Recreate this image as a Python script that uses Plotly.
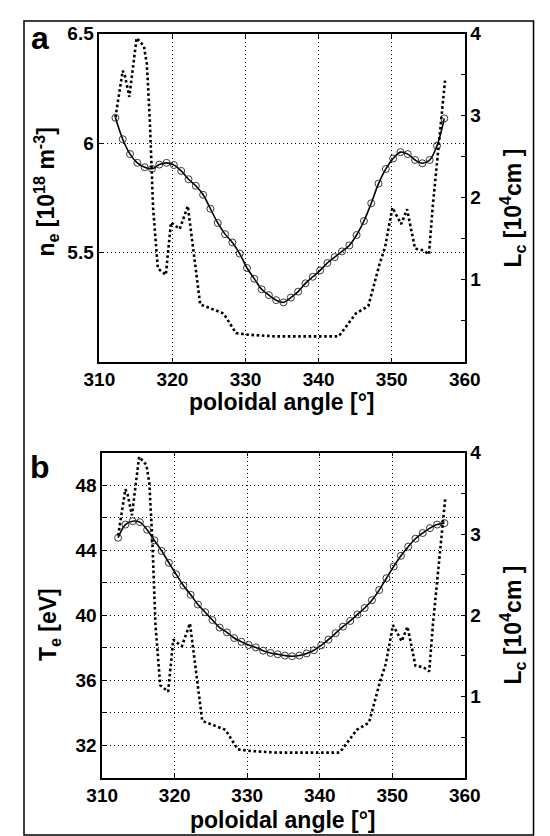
import plotly.graph_objects as go

# ---------------- data ----------------
angle = [312.2, 313.2, 314.2, 315.2, 316.2, 317.2, 318.2, 319.2, 320.2, 321.2,
         322.2, 323.2, 324.2, 325.2, 326.2, 327.2, 328.2, 329.2, 330.2, 331.2,
         332.2, 333.2, 334.2, 335.2, 336.2, 337.2, 338.2, 339.2, 340.2, 341.2,
         342.2, 343.2, 344.2, 345.2, 346.2, 347.2, 348.2, 349.2, 350.2, 351.2,
         352.2, 353.2, 354.2, 355.2, 356.2, 357.2]

ne = [6.116, 6.018, 5.950, 5.910, 5.890, 5.883, 5.902, 5.910, 5.900, 5.873,
      5.835, 5.805, 5.764, 5.700, 5.635, 5.584, 5.546, 5.495, 5.429, 5.380,
      5.332, 5.305, 5.282, 5.272, 5.294, 5.321, 5.359, 5.389, 5.418, 5.452,
      5.479, 5.505, 5.532, 5.580, 5.644, 5.725, 5.815, 5.882, 5.930, 5.959,
      5.950, 5.923, 5.908, 5.923, 5.988, 6.113]

te = [44.77, 45.58, 45.79, 45.73, 45.26, 44.61, 43.96, 43.23, 42.52, 41.83,
      41.26, 40.66, 40.19, 39.71, 39.24, 38.95, 38.60, 38.37, 38.17, 38.02,
      37.82, 37.68, 37.60, 37.52, 37.48, 37.52, 37.65, 37.85, 38.15, 38.50,
      38.90, 39.30, 39.65, 40.05, 40.45, 40.93, 41.55, 42.28, 43.00, 43.66,
      44.22, 44.71, 45.06, 45.36, 45.58, 45.67]

lc_angle = [312.2, 313.2, 313.5, 314.1, 315.1, 316.1, 316.5, 316.9, 317.35, 318.0,
            319.1, 319.8, 321.0, 322.1, 322.7, 323.8, 327.0, 328.7, 330.5, 334.1,
            342.7, 343.1, 345.1, 346.8, 348.3, 349.1, 350.1, 351.3, 352.1, 353.2,
            354.3, 355.1, 355.6, 357.3]
lc = [2.98, 3.55, 3.49, 3.23, 3.95, 3.85, 3.63, 2.96, 1.88, 1.14,
      1.06, 1.70, 1.62, 1.90, 1.48, 0.70, 0.59, 0.35, 0.33, 0.31,
      0.31, 0.35, 0.59, 0.68, 1.18, 1.40, 1.88, 1.68, 1.86, 1.38,
      1.36, 1.31, 1.88, 3.43]

x_ticks = [310, 320, 330, 340, 350, 360]
ne_ticks = [5.5, 6, 6.5]
ne_ticktext = ["5.5", "6", "6.5"]
te_ticks = [32, 36, 40, 44, 48]
te_minor = [34, 38, 42, 46]
lc_ticks = [1, 2, 3, 4]
lc_minor = [0.5, 1.5, 2.5, 3.5]

# ---------------- figure ----------------
W, H = 550, 836
OFF = 8  # page body margin offset
FONT = "Liberation Sans, Arial, sans-serif"

def px_x(p):
    return (p - OFF) / W

def px_y(p):
    return 1 - (p - OFF) / H

fig = go.Figure()

circle_style = dict(symbol="circle-open", size=7, color="#222", line=dict(width=0.9, color="#222"))
dot_line = dict(color="black", width=2.6, dash="2.6px,2.6px")

fig.add_trace(go.Scatter(x=angle, y=ne, mode="lines+markers", xaxis="x", yaxis="y",
                         line=dict(color="black", width=1.6, shape="spline"),
                         marker=circle_style, showlegend=False))
fig.add_trace(go.Scatter(x=lc_angle, y=lc, mode="lines", xaxis="x", yaxis="y2",
                         line=dot_line, showlegend=False))
fig.add_trace(go.Scatter(x=angle, y=te, mode="lines+markers", xaxis="x2", yaxis="y3",
                         line=dict(color="black", width=1.6, shape="spline"),
                         marker=circle_style, showlegend=False))
fig.add_trace(go.Scatter(x=lc_angle, y=lc, mode="lines", xaxis="x2", yaxis="y4",
                         line=dot_line, showlegend=False))

tickfont = dict(family=FONT, size=19, color="black", weight="bold")
common = dict(showline=True, linecolor="black", linewidth=1.5, ticks="inside",
              ticklen=4, tickcolor="black", tickwidth=1, zeroline=False,
              tickfont=tickfont)
grid = dict(showgrid=True, gridcolor="black", griddash="1px,3px", gridwidth=1)

fig.update_layout(
    width=W, height=H, margin=dict(l=0, r=0, t=0, b=0),
    paper_bgcolor="white", plot_bgcolor="white",
    xaxis=dict(domain=[px_x(88), px_x(476)], anchor="y", range=[310, 360],
               tickvals=x_ticks, mirror="ticks", **common, **grid),
    yaxis=dict(domain=[px_y(356), px_y(24)], anchor="x", range=[5.0, 6.5],
               tickvals=ne_ticks, ticktext=ne_ticktext, **common, **grid),
    yaxis2=dict(overlaying="y", side="right", anchor="x", range=[0, 4],
                tickvals=lc_ticks, showgrid=False,
                minor=dict(tickvals=lc_minor, ticks="inside", ticklen=4, tickcolor="black"),
                **common),
    xaxis2=dict(domain=[px_x(91), px_x(476)], anchor="y3", range=[310, 360],
                tickvals=x_ticks, mirror="ticks", **common, **grid),
    yaxis3=dict(domain=[px_y(777), px_y(448)], anchor="x2", range=[30, 50],
                tickvals=te_ticks,
                minor=dict(tickvals=te_minor, ticks="inside", ticklen=4, tickcolor="black",
                           showgrid=True, gridcolor="black", griddash="1px,3px", gridwidth=1),
                **common, **grid),
    yaxis4=dict(overlaying="y3", side="right", anchor="x2", range=[0, 4],
                tickvals=lc_ticks, showgrid=False,
                minor=dict(tickvals=lc_minor, ticks="inside", ticklen=4, tickcolor="black"),
                **common),
)

title_font = dict(family=FONT, size=23, color="black", weight="bold")
panel_font = dict(family=FONT, size=32, color="black", weight="bold")

def ann(text, x, y, font, angle=0):
    fig.add_annotation(text=text, x=px_x(x), y=px_y(y), xref="paper", yref="paper",
                       showarrow=False, xanchor="center", yanchor="middle",
                       textangle=angle, font=font)

ann("a", 25, 28, panel_font)
ann("b", 25, 462, panel_font)
ann("n<sub>e</sub> [10<sup>18</sup> m<sup>-3</sup>]", 31, 184, title_font, -90)
ann("L<sub>c</sub> [10<sup>4</sup>cm ]", 526, 200, title_font, -90)
ann("poloidal angle [°]", 282, 397, title_font)
ann("T<sub>e</sub> [eV]", 35, 622, title_font, -90)
ann("L<sub>c</sub> [10<sup>4</sup>cm ]", 526, 622, title_font, -90)
ann("poloidal angle [°]", 283, 820, title_font)

# outer frame
fig.add_shape(type="rect", xref="paper", yref="paper",
              x0=px_x(8), x1=px_x(549), y0=px_y(835), y1=px_y(11),
              line=dict(color="black", width=1.5))

fig.write_html("out.html")
